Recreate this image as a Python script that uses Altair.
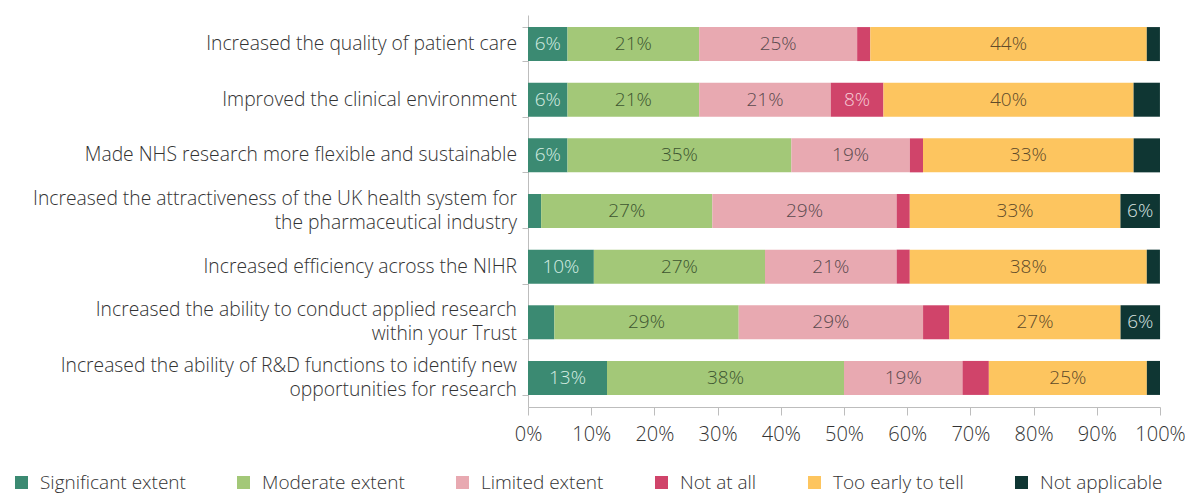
import altair as alt
import pandas as pd

categories = [
    "Increased the quality of patient care",
    "Improved the clinical environment",
    "Made NHS research more flexible and sustainable",
    "Increased the attractiveness of the UK health system for\nthe pharmaceutical industry",
    "Increased efficiency across the NIHR",
    "Increased the ability to conduct applied research\nwithin your Trust",
    "Increased the ability of R&D functions to identify new\nopportunities for research",
]

responses = ["Significant extent", "Moderate extent", "Limited extent",
             "Not at all", "Too early to tell", "Not applicable"]

significant = [6.25, 6.25, 6.25, 2.08, 10.42, 4.17, 12.5]
moderate = [20.83, 20.83, 35.42, 27.08, 27.08, 29.17, 37.5]
limited = [25.0, 20.83, 18.75, 29.17, 20.83, 29.17, 18.75]
not_at_all = [2.08, 8.33, 2.08, 2.08, 2.08, 4.17, 4.17]
too_early = [43.75, 39.58, 33.33, 33.33, 37.5, 27.08, 25.0]
not_applicable = [2.08, 4.17, 4.17, 6.25, 2.08, 6.25, 2.08]

colors = ["#3b8a72", "#a3c878", "#e8a9b1", "#d0446a", "#fdc55f", "#0f3633"]
text_colors = ["#d6ede2", "#3d5530", "#5a4a4e", "#f6cbd6", "#5e4a2a", "#d8e2e0"]

series = [significant, moderate, limited, not_at_all, too_early, not_applicable]
rows = []
for ri, (resp, vals) in enumerate(zip(responses, series)):
    for cat, v in zip(categories, vals):
        rows.append({"category": cat, "response": resp, "value": v,
                     "order": ri, "tcolor": text_colors[ri]})
df = pd.DataFrame(rows)
cat_df = pd.DataFrame({"category": categories})

FONT = "Open Sans"
FW = 300
TXT = "#333333"

base = alt.Chart(df).transform_stack(
    stack="value", groupby=["category"], as_=["x0", "x1"],
    sort=[alt.SortField("order", order="ascending")]
).transform_calculate(
    mid="(datum.x0 + datum.x1) / 2",
    label="round(datum.value) + '%'"
)

yscale = alt.Scale(domain=categories, paddingInner=0.387, paddingOuter=0.216)

y_enc = alt.Y(
    "category:N", sort=categories, title=None, scale=yscale,
    axis=alt.Axis(labels=False, tickBand="extent", tickSize=6,
                  tickColor="#bdbdbd", domainColor="#bdbdbd"),
)

bars = base.mark_bar(size=34).encode(
    x=alt.X("x0:Q", title=None,
            scale=alt.Scale(domain=[0, 100], nice=False),
            axis=alt.Axis(values=list(range(0, 101, 10)), labelExpr="datum.value + '%'",
                          grid=False, tickSize=8, tickColor="#bdbdbd",
                          domainColor="#bdbdbd", labelFont=FONT, labelFontWeight=FW,
                          labelFontSize=20, labelColor=TXT, labelPadding=9,
                          labelOverlap=False, labelFlush=False)),
    x2="x1:Q",
    y=y_enc,
    color=alt.Color("response:N", sort=responses,
                    scale=alt.Scale(domain=responses, range=colors),
                    legend=alt.Legend(
                        title=None, orient="none", direction="horizontal",
                        legendX=-516, legendY=458, symbolType="square",
                        symbolSize=170, symbolStrokeWidth=0, symbolOpacity=1,
                        labelFont=FONT, labelFontWeight=FW, labelFontSize=19,
                        labelColor=TXT,
                        labelOffset=9, columnPadding=48, gridAlign="none",
                        columns=6, labelLimit=300)),
)

texts = base.transform_filter("datum.value >= 5").mark_text(
    font=FONT, fontWeight=FW, fontSize=19, align="center", baseline="middle"
).encode(
    x="mid:Q",
    y=alt.Y("category:N", sort=categories, scale=yscale),
    text="label:N",
    color=alt.Color("tcolor:N", scale=None),
)

cat_base = alt.Chart(cat_df)
one_line = cat_base.transform_filter("indexof(datum.category, '\\n') < 0").mark_text(
    font=FONT, fontWeight=FW, fontSize=19.3, align="right", baseline="middle",
    color=TXT, dx=-11
).encode(
    x=alt.value(0),
    y=alt.Y("category:N", sort=categories, scale=yscale),
    text="category:N",
)
two_line = cat_base.transform_filter("indexof(datum.category, '\\n') >= 0").mark_text(
    font=FONT, fontWeight=FW, fontSize=19.3, align="right", baseline="middle",
    color=TXT, dx=-11, dy=-12, lineBreak="\n", lineHeight=24
).encode(
    x=alt.value(0),
    y=alt.Y("category:N", sort=categories, scale=yscale),
    text="category:N",
)

chart = alt.layer(bars, texts, one_line, two_line).properties(
    width=632, height=392,
    autosize=alt.AutoSizeParams(type="none"),
    padding={"left": 520, "top": 7, "right": 25, "bottom": 86},
).configure_view(stroke=None)

chart.save("out.html", embed_options={"renderer": "svg", "actions": False})
